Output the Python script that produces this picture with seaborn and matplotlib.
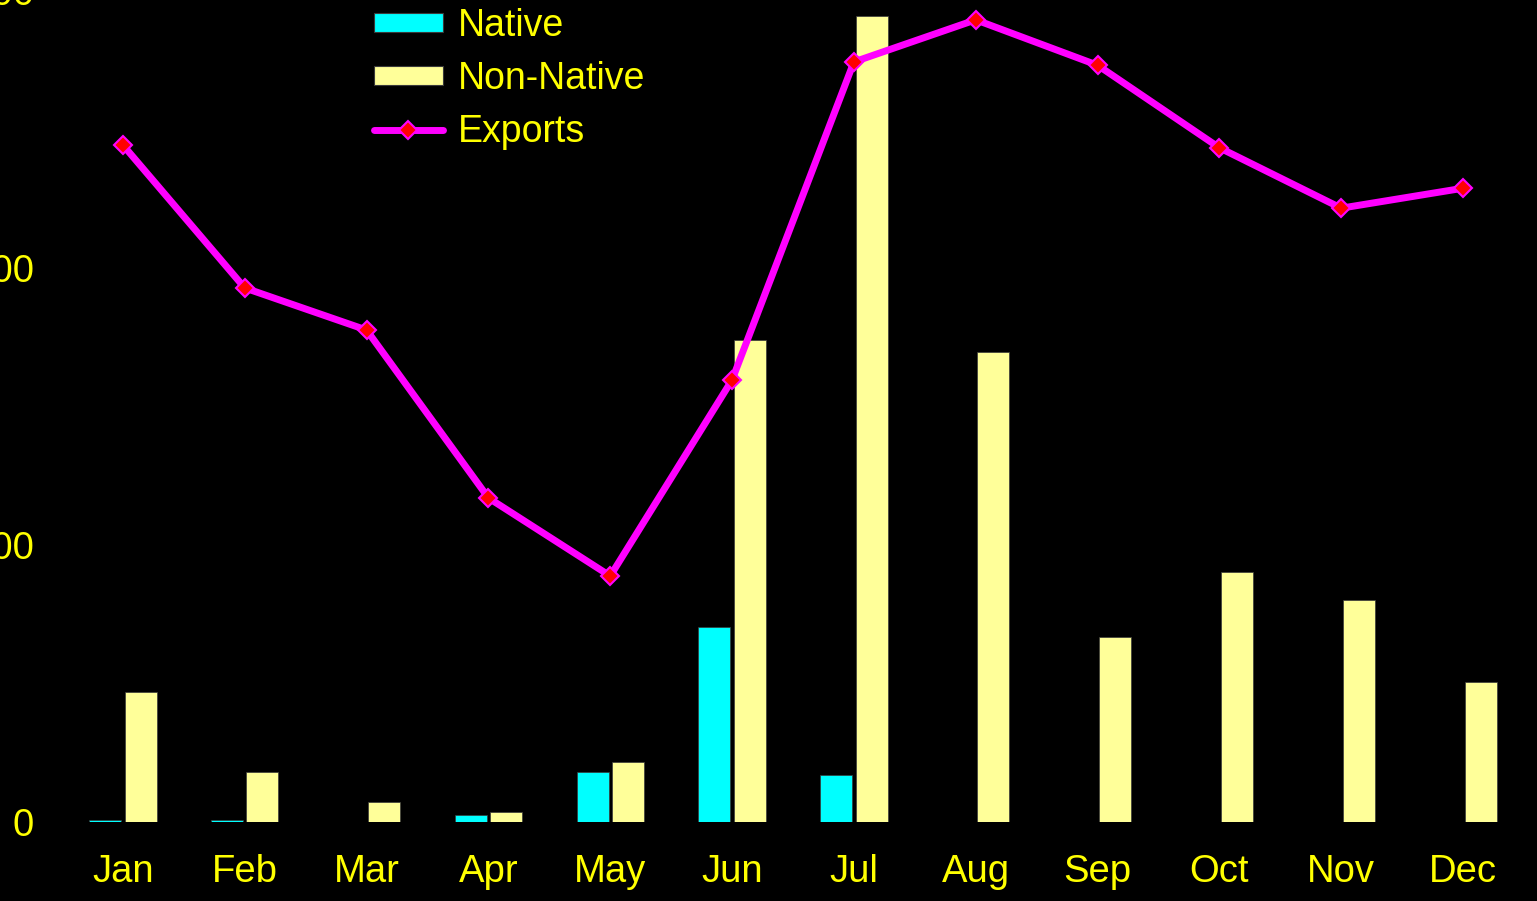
import numpy as np
import pandas as pd
import matplotlib
matplotlib.use('Agg')
import matplotlib.pyplot as plt
import seaborn as sns
from matplotlib.lines import Line2D
from matplotlib.patches import Patch

months = ['Jan', 'Feb', 'Mar', 'Apr', 'May', 'Jun', 'Jul', 'Aug', 'Sep', 'Oct', 'Nov', 'Dec']
native = [4, 4, 0, 12, 90, 352, 85, 0, 0, 0, 0, 0]
non_native = [235, 90, 36, 18, 108, 870, 1455, 848, 334, 451, 401, 253]
exports = [1222, 964, 888, 585, 444, 798, 1372, 1448, 1366, 1217, 1108, 1144]
y_ticks = [0, 500, 1000, 1500]

sns.set_theme(style='dark')
plt.rcParams['font.family'] = ['Liberation Sans', 'DejaVu Sans']

df = pd.DataFrame({
    'month': months * 2,
    'value': native + non_native,
    'kind': ['Native'] * 12 + ['Non-Native'] * 12,
})

fig = plt.figure(figsize=(15.37, 9.01), dpi=100, facecolor='black')
W, H = 1537, 901
# axes runs past the left and top edge of the figure, like the cropped source
ax = fig.add_axes([62 / W, 79 / H, 1462 / W, 831 / H])
ax.set_facecolor('black')

sns.barplot(data=df, x='month', y='value', hue='kind', order=months,
            palette={'Native': '#00FFFF', 'Non-Native': '#FFFF99'},
            saturation=1, width=0.58, gap=0.09, edgecolor='#3a3a3a',
            linewidth=0.5, legend=False, ax=ax)
ax.plot(np.arange(len(months)), exports, color='#FF00FF', lw=5,
        marker='D', markersize=9, markerfacecolor='red',
        markeredgecolor='#FF00FF', markeredgewidth=1.5, zorder=5,
        solid_capstyle='round', solid_joinstyle='round')

ax.set_xlim(-0.5, len(months) - 0.5)
ax.set_ylim(0, 1500)
ax.set_yticks(y_ticks)
ax.set_xlabel('')
ax.set_ylabel('')
for s in ax.spines.values():
    s.set_visible(False)
ax.grid(False)
ax.tick_params(axis='both', colors='#FFFF00', labelsize=27.5, length=0)
ax.tick_params(axis='y', pad=20)
ax.tick_params(axis='x', pad=23)

handles = [
    Patch(facecolor='#00FFFF', edgecolor='#3a3a3a', lw=0.8),
    Patch(facecolor='#FFFF99', edgecolor='#3a3a3a', lw=0.8),
    Line2D([], [], color='#FF00FF', lw=5, marker='D', markersize=9,
           markerfacecolor='red', markeredgecolor='#FF00FF', markeredgewidth=1.5,
           solid_capstyle='round'),
]
leg = fig.legend(handles, ['Native', 'Non-Native', 'Exports'],
                 loc='upper left', bbox_to_anchor=(340 / W, 1 + 26 / H),
                 frameon=False, fontsize=27, labelcolor='#FFFF00',
                 handlelength=1.85, handleheight=0.4, handletextpad=0.4,
                 labelspacing=0.45)

fig.savefig('out.png', dpi=100, facecolor='black')
